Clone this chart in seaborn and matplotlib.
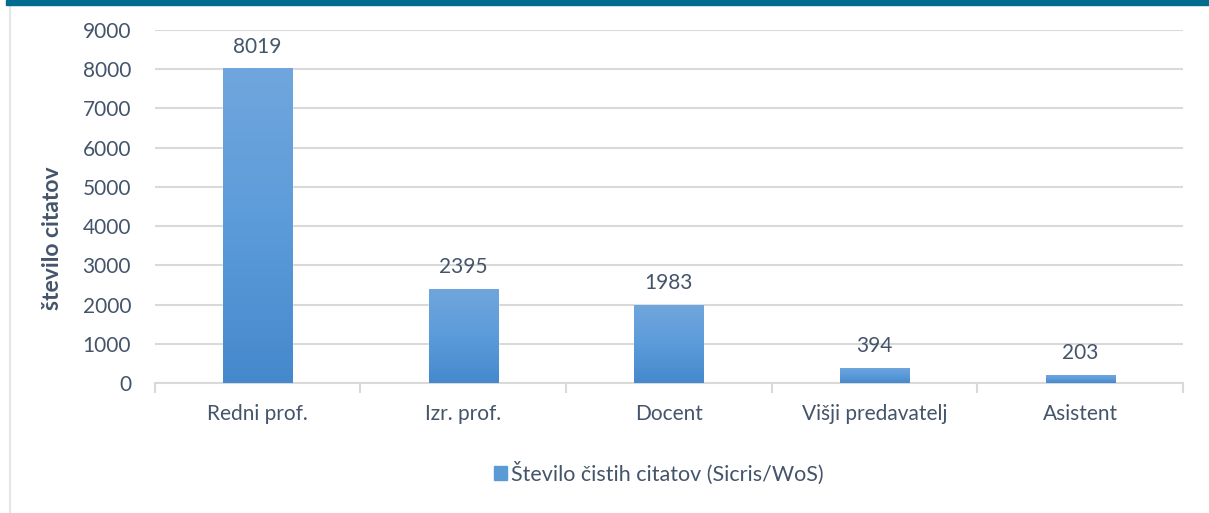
import matplotlib.pyplot as plt
import seaborn as sns
import numpy as np
import pandas as pd
from matplotlib.patches import Rectangle
from matplotlib.lines import Line2D

categories = ["Redni prof.", "Izr. prof.", "Docent", "Višji predavatelj", "Asistent"]
citati = [8019, 2395, 1983, 394, 203]
series_name = "Število čistih citatov (Sicris/WoS)"
yticks = [0, 1000, 2000, 3000, 4000, 5000, 6000, 7000, 8000, 9000]

sns.set_theme(style="white")
plt.rcParams["font.family"] = ["Lato", "DejaVu Sans"]
txt = "#44546A"

df = pd.DataFrame({"kategorija": categories, "citati": citati})

fig = plt.figure(figsize=(12.09, 5.13), dpi=100)
ax = fig.add_axes([0.128, 0.2534, 0.8505, 0.6881])

sns.barplot(data=df, x="kategorija", y="citati", color="#5B9BD5", width=0.336,
            ax=ax, zorder=3)

# vertical gradient inside each bar (excel look)
grad = np.linspace(0, 1, 256).reshape(-1, 1)
cmap = sns.blend_palette(["#4589CC", "#5C9BDA", "#70A6DD"], as_cmap=True)
for bar in ax.patches:
    x0, y0 = bar.get_x(), bar.get_y()
    w, h = bar.get_width(), bar.get_height()
    im = ax.imshow(grad, cmap=cmap, origin="lower", aspect="auto",
                   extent=[x0, x0 + w, y0, y0 + h], zorder=4)
    im.set_clip_path(bar)
    ax.text(x0 + w / 2, h + 300, f"{int(h)}", ha="center", va="bottom",
            fontsize=15, color=txt, zorder=5)

ax.set_xlim(-0.5, len(categories) - 0.5)
ax.set_ylim(0, 9000)
ax.set_yticks(yticks)
ax.yaxis.grid(True, color="#D9D9D9", linewidth=1.5, zorder=0)
ax.set_axisbelow(True)
for s in ["top", "right", "left"]:
    ax.spines[s].set_visible(False)
ax.spines["bottom"].set_color("#D9D9D9")
ax.spines["bottom"].set_linewidth(1.5)

ax.set_xticks(np.arange(-0.5, len(categories)), minor=True)
ax.tick_params(axis="x", which="minor", length=7, width=1.5, color="#D9D9D9", bottom=True)
ax.tick_params(axis="x", which="major", length=0, pad=15, labelsize=15, labelcolor=txt)
ax.tick_params(axis="y", length=0, pad=17, labelsize=15, labelcolor=txt)

ax.set_xlabel("")
ax.set_ylabel("število citatov", fontsize=16.5, fontweight="bold", color=txt)
ax.yaxis.set_label_coords(-0.0895, 0.41)

handle = Rectangle((0, 0), 1, 1, color="#5B9BD5")
fig.legend([handle], [series_name], loc="center", bbox_to_anchor=(0.545, 0.078),
           frameon=False, fontsize=15.5, labelcolor=txt, handlelength=0.6,
           handleheight=0.6, handletextpad=0.2)

# header strip and chart frame
fig.patches.append(Rectangle((0.005, 0.99), 0.995, 0.01, transform=fig.transFigure,
                             color="#006C8E", zorder=10))
fig.lines.append(Line2D([0.0085, 0.0085], [0, 0.99], transform=fig.transFigure,
                        color="#E3E6EA", linewidth=1.5))

fig.savefig("out.png", dpi=100)
